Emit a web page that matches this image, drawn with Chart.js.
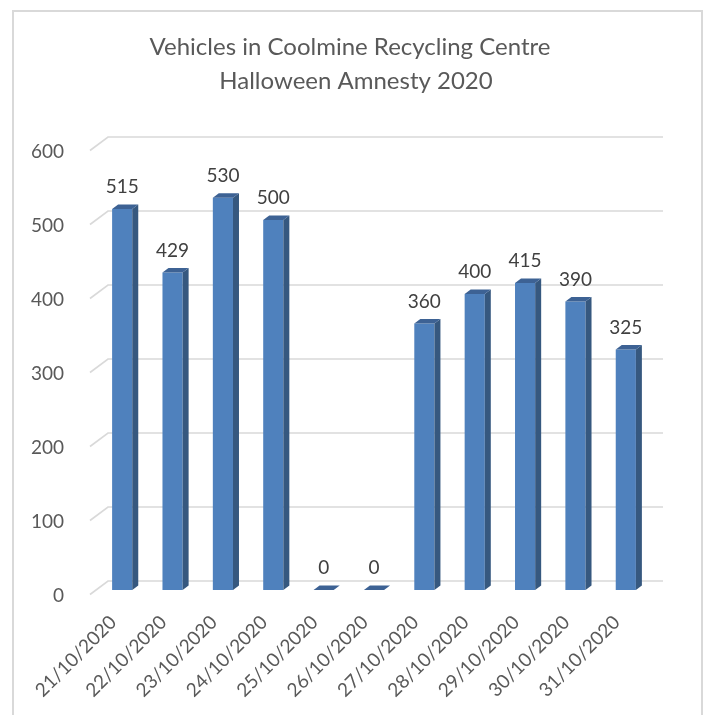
<!DOCTYPE html>
<html>
<head>
<meta charset="utf-8">
<script src="https://cdn.jsdelivr.net/npm/chart.js@4/dist/chart.umd.min.js"></script>
<style>
  html, body { margin: 0; padding: 0; background: #ffffff; }
  #wrap { width: 707px; height: 715px; }
</style>
</head>
<body>
<div id="wrap"><canvas id="c" width="707" height="715"></canvas></div>
<script>
const categories = ["21/10/2020","22/10/2020","23/10/2020","24/10/2020","25/10/2020","26/10/2020","27/10/2020","28/10/2020","29/10/2020","30/10/2020","31/10/2020"];
const vehicles = [515, 429, 530, 500, 0, 0, 360, 400, 415, 390, 325];
const titleLines = ["Vehicles in Coolmine Recycling Centre", "Halloween Amnesty 2020"];
const yTicks = [0, 100, 200, 300, 400, 500, 600];

const FONT = "Lato";
const TXT = "#595959";
const DEPTH_X = 6, DEPTH_Y = 4.5;

const frame = {
  id: "frame",
  beforeDraw(chart) {
    const ctx = chart.ctx;
    ctx.save();
    ctx.fillStyle = "#ffffff";
    ctx.fillRect(0, 0, chart.width, chart.height);
    ctx.strokeStyle = "#d9d9d9";
    ctx.lineWidth = 2;
    ctx.beginPath();
    ctx.moveTo(13, 730);
    ctx.lineTo(13, 11);
    ctx.lineTo(702, 11);
    ctx.lineTo(702, 730);
    ctx.stroke();
    ctx.fillStyle = TXT;
    ctx.font = "24px " + FONT;
    ctx.textAlign = "center";
    ctx.textBaseline = "middle";
    ctx.fillText(titleLines[0], 350, 47);
    ctx.fillText(titleLines[1], 356, 81);
    ctx.restore();
  }
};

const grid3d = {
  id: "grid3d",
  beforeDatasetsDraw(chart) {
    const ctx = chart.ctx, ys = chart.scales.y, area = chart.chartArea;
    ctx.save();
    ctx.strokeStyle = "#d9d9d9";
    ctx.lineWidth = 1.6;
    ys.ticks.forEach(t => {
      const p = ys.getPixelForValue(t.value);
      ctx.beginPath();
      ctx.moveTo(area.left - 7, p + 4.5);
      ctx.lineTo(area.left + 11, p - 9);
      ctx.lineTo(area.right + 12, p - 9);
      ctx.stroke();
    });
    ctx.restore();
  }
};

const bars3d = {
  id: "bars3d",
  afterDatasetsDraw(chart) {
    const ctx = chart.ctx;
    const meta = chart.getDatasetMeta(0);
    ctx.save();
    meta.data.forEach((el, i) => {
      const {x, y, base, width} = el.getProps(["x","y","base","width"], true);
      const x0 = x - width / 2, x1 = x + width / 2;
      ctx.fillStyle = "#36587f";
      ctx.beginPath();
      ctx.moveTo(x1, y);
      ctx.lineTo(x1 + DEPTH_X, y - DEPTH_Y);
      ctx.lineTo(x1 + DEPTH_X, base - DEPTH_Y);
      ctx.lineTo(x1, base);
      ctx.closePath();
      ctx.fill();
      ctx.fillStyle = "#3d6294";
      ctx.beginPath();
      ctx.moveTo(x0, y);
      ctx.lineTo(x1, y);
      ctx.lineTo(x1 + DEPTH_X, y - DEPTH_Y);
      ctx.lineTo(x0 + DEPTH_X, y - DEPTH_Y);
      ctx.closePath();
      ctx.fill();
      ctx.fillStyle = "#404040";
      ctx.font = "19px " + FONT;
      ctx.textAlign = "center";
      ctx.textBaseline = "middle";
      ctx.fillText(String(vehicles[i]), x, y - 22);
    });
    ctx.restore();
  }
};

new Chart(document.getElementById("c"), {
  type: "bar",
  data: {
    labels: categories,
    datasets: [{
      label: "Vehicles",
      data: vehicles,
      backgroundColor: "#4f81bd",
      borderWidth: 0,
      barPercentage: 0.4,
      categoryPercentage: 1.0
    }]
  },
  options: {
    responsive: false,
    animation: false,
    devicePixelRatio: 1,
    layout: { padding: { left: 20, right: 56, top: 146, bottom: 0 } },
    plugins: {
      legend: { display: false },
      tooltip: { enabled: false },
      title: { display: false }
    },
    scales: {
      x: {
        grid: { display: false },
        border: { display: false },
        ticks: {
          color: TXT,
          font: { family: FONT, size: 19 },
          minRotation: 45,
          maxRotation: 45,
          padding: 13,
          labelOffset: -9,
          autoSkip: false
        },
        afterFit(s) { s.height = 125; s.paddingLeft = 0; s.paddingRight = 0; }
      },
      y: {
        min: 0,
        max: 600,
        afterBuildTicks(s) { s.ticks = yTicks.map(v => ({ value: v })); },
        grid: { display: false },
        border: { display: false },
        ticks: {
          color: TXT,
          font: { family: FONT, size: 19 },
          padding: 25,
          labelOffset: 6
        },
        afterFit(s) { s.width = 77; s.paddingTop = 0; s.paddingBottom = 0; }
      }
    }
  },
  plugins: [frame, grid3d, bars3d]
});
</script>
</body>
</html>
